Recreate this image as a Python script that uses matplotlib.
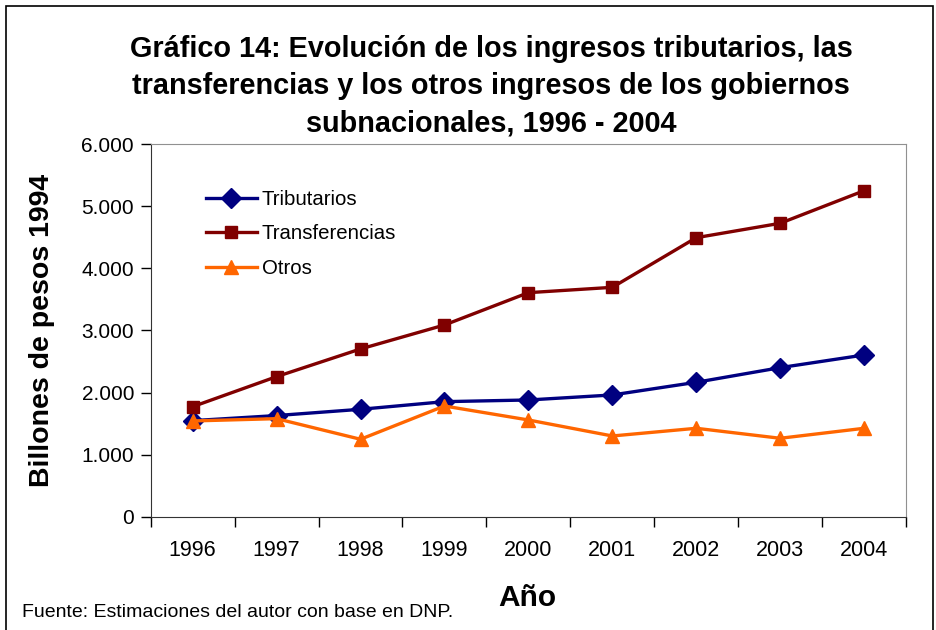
"""Gráfico 14: ingresos de los gobiernos subnacionales, 1996 - 2004."""

import matplotlib
matplotlib.use('Agg')
import matplotlib.pyplot as plt
from matplotlib.patches import Rectangle
from matplotlib.ticker import FuncFormatter
import numpy as np

plt.rcParams['font.family'] = ['Liberation Sans', 'DejaVu Sans']

# Data (billones de pesos de 1994)
years = ['1996', '1997', '1998', '1999', '2000', '2001', '2002', '2003', '2004']
tributarios = [1547, 1629, 1730, 1853, 1880, 1961, 2165, 2401, 2605]
transferencias = [1772, 2256, 2702, 3088, 3609, 3695, 4495, 4727, 5252]
otros = [1542, 1579, 1247, 1783, 1558, 1300, 1424, 1263, 1424]

fig = plt.figure(figsize=(9.37, 6.3), dpi=100)
ax = fig.add_axes([0.1608, 0.1799, 0.8062, 0.5911])

x = np.arange(len(years))
ax.plot(x, tributarios, '-D', color='#000080', lw=2.4, ms=10, label='Tributarios')
ax.plot(x, transferencias, '-s', color='#800000', lw=2.4, ms=8, label='Transferencias')
ax.plot(x, otros, '-^', color='#FF6600', lw=2.4, ms=9.5, label='Otros')

ax.set_xlim(-0.5, len(years) - 0.5)
ax.set_ylim(0, 6000)
ax.set_yticks(np.arange(0, 6001, 1000))
ax.yaxis.set_major_formatter(FuncFormatter(lambda v, p: f'{int(v):,}'.replace(',', '.')))

# ticks between categories, labels centred on categories
ax.set_xticks(np.arange(-0.5, len(years), 1.0))
ax.set_xticklabels([])
ax.set_xticks(x, minor=True)
ax.set_xticklabels(years, minor=True)
ax.tick_params(axis='x', which='minor', length=0, pad=17, labelsize=15.5)
ax.tick_params(axis='x', which='major', length=7, width=1)
ax.tick_params(axis='y', length=7, width=1, labelsize=15, pad=5)

for side in ['top', 'right']:
    ax.spines[side].set_color('#909090')
for side in ['left', 'bottom']:
    ax.spines[side].set_color('#333333')

ax.set_ylabel('Billones de pesos 1994', fontsize=20.5, fontweight='bold')
ax.yaxis.set_label_coords(-0.126, 0.5)

leg = ax.legend(loc='upper left', bbox_to_anchor=(0.062, 0.9), frameon=False,
                fontsize=14.7, handlelength=2.5, labelspacing=0.76, handletextpad=0.25,
                borderaxespad=0.0)

fig.text(0.524, 0.8635, 'Gráfico 14: Evolución de los ingresos tributarios, las\n'
         'transferencias y los otros ingresos de los gobiernos\n'
         'subnacionales, 1996 - 2004',
         ha='center', va='center', fontsize=20.8, fontweight='bold', linespacing=1.42)
fig.text(0.563, 0.05, 'Año', ha='center', va='center', fontsize=21.5, fontweight='bold')
fig.text(0.023, 0.028, 'Fuente: Estimaciones del autor con base en DNP.',
         ha='left', va='center', fontsize=14)

# outer frame of the chart
fig.patches.append(Rectangle((0.006, -0.05), 0.99, 1.04, transform=fig.transFigure,
                             fill=False, edgecolor='black', lw=1.2))

fig.savefig('out.png', dpi=100)
